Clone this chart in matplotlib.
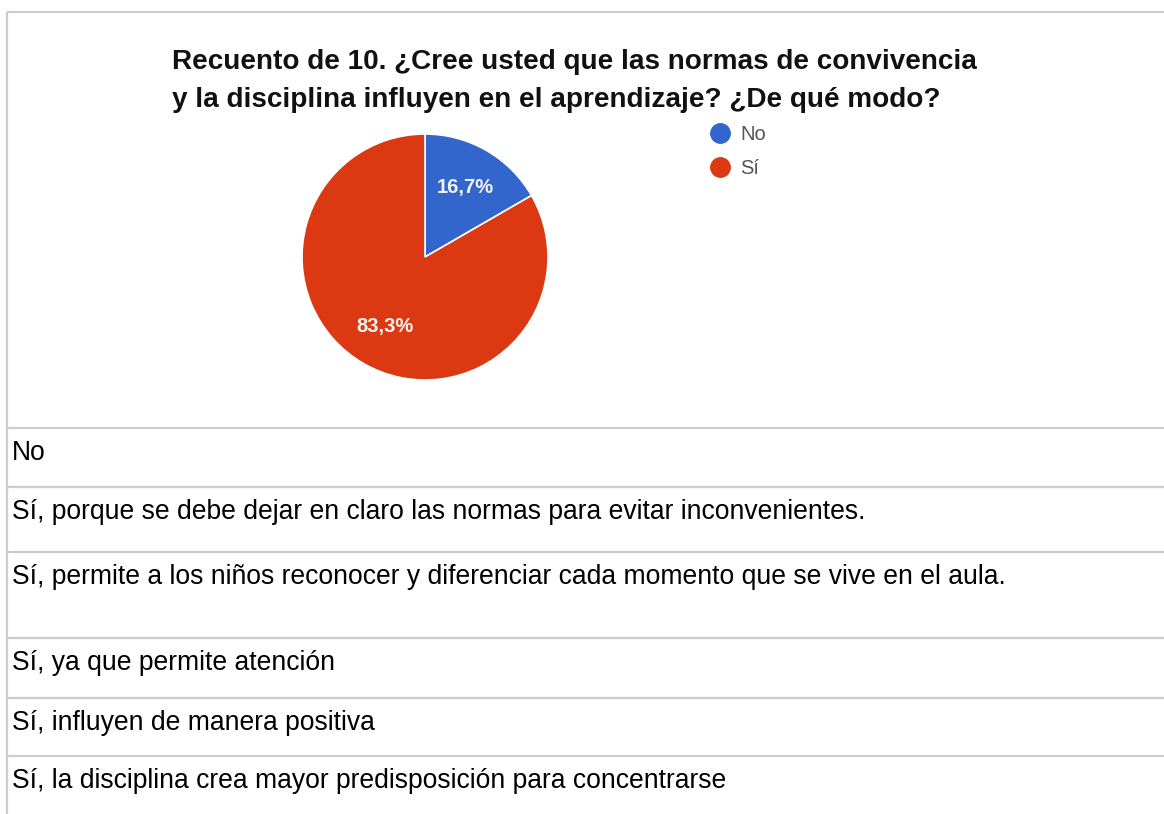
import matplotlib
matplotlib.use("Agg")
import matplotlib.pyplot as plt
from matplotlib.lines import Line2D

plt.rcParams['font.family'] = ['Liberation Sans', 'DejaVu Sans']

# ---- data ----
title_lines = ["Recuento de 10. ¿Cree usted que las normas de convivencia",
               "y la disciplina influyen en el aprendizaje? ¿De qué modo?"]
categories = ["No", "Sí"]
counts = [1, 5]
colors = ["#3366CC", "#DC3912"]
responses = [
    "No",
    "Sí, porque se debe dejar en claro las normas para evitar inconvenientes.",
    "Sí, permite a los niños reconocer y diferenciar cada momento que se vive en el aula.",
    "Sí, ya que permite atención",
    "Sí, influyen de manera positiva",
    "Sí, la disciplina crea mayor predisposición para concentrarse",
]

W, H = 1164, 814
DPI = 100
fig = plt.figure(figsize=(W / DPI, H / DPI), dpi=DPI)
fig.patch.set_facecolor("white")

# overlay axes in pixel coordinates
ov = fig.add_axes([0, 0, 1, 1])
ov.set_xlim(0, W)
ov.set_ylim(H, 0)
ov.axis("off")

grid_c = "#cccccc"
lw = 1.6
# outer frame
ov.plot([7, W], [12, 12], color=grid_c, lw=lw, solid_capstyle="butt")
ov.plot([7, 7], [12, H], color=grid_c, lw=lw, solid_capstyle="butt")
row_tops = [428, 487, 552, 638, 698, 756]
for y in row_tops:
    ov.plot([7, W], [y, y], color=grid_c, lw=lw, solid_capstyle="butt")

# row texts
for y, t in zip(row_tops, responses):
    ov.text(12, y + 25, t, fontsize=19.1, color="#000000", va="center", ha="left")

# title
ov.text(172, 62, title_lines[0], fontsize=20.1, fontweight="bold", color="#111111",
        va="center", ha="left")
ov.text(172, 100, title_lines[1], fontsize=20.1, fontweight="bold", color="#111111",
        va="center", ha="left")

# pie
cx, cy, r = 425, 257, 123
pax = fig.add_axes([(cx - r) / W, (H - cy - r) / H, 2 * r / W, 2 * r / H])
wedges, texts, autotexts = pax.pie(
    counts, colors=colors, startangle=90, counterclock=False, radius=1,
    autopct=lambda p: f"{p:.1f}%".replace(".", ","), pctdistance=0.65,
    wedgeprops=dict(edgecolor="white", linewidth=1.2),
    textprops=dict(color="#f2f2f2", fontsize=14.5, fontweight="bold"))
pax.set_xlim(-1, 1)
pax.set_ylim(-1, 1)
pax.set_aspect("equal")
pax.axis("off")

# legend
handles = [Line2D([], [], marker="o", linestyle="none", markersize=14,
                  markerfacecolor=c, markeredgecolor=c) for c in colors]
leg = fig.legend(handles, categories, loc="upper left",
                 bbox_to_anchor=(699 / W, 1 - 115 / H), frameon=False,
                 fontsize=14.5, labelcolor="#555555", handletextpad=0.45,
                 labelspacing=0.75, handlelength=1.1, borderpad=0)

fig.savefig("out.png", dpi=DPI, facecolor="white")
